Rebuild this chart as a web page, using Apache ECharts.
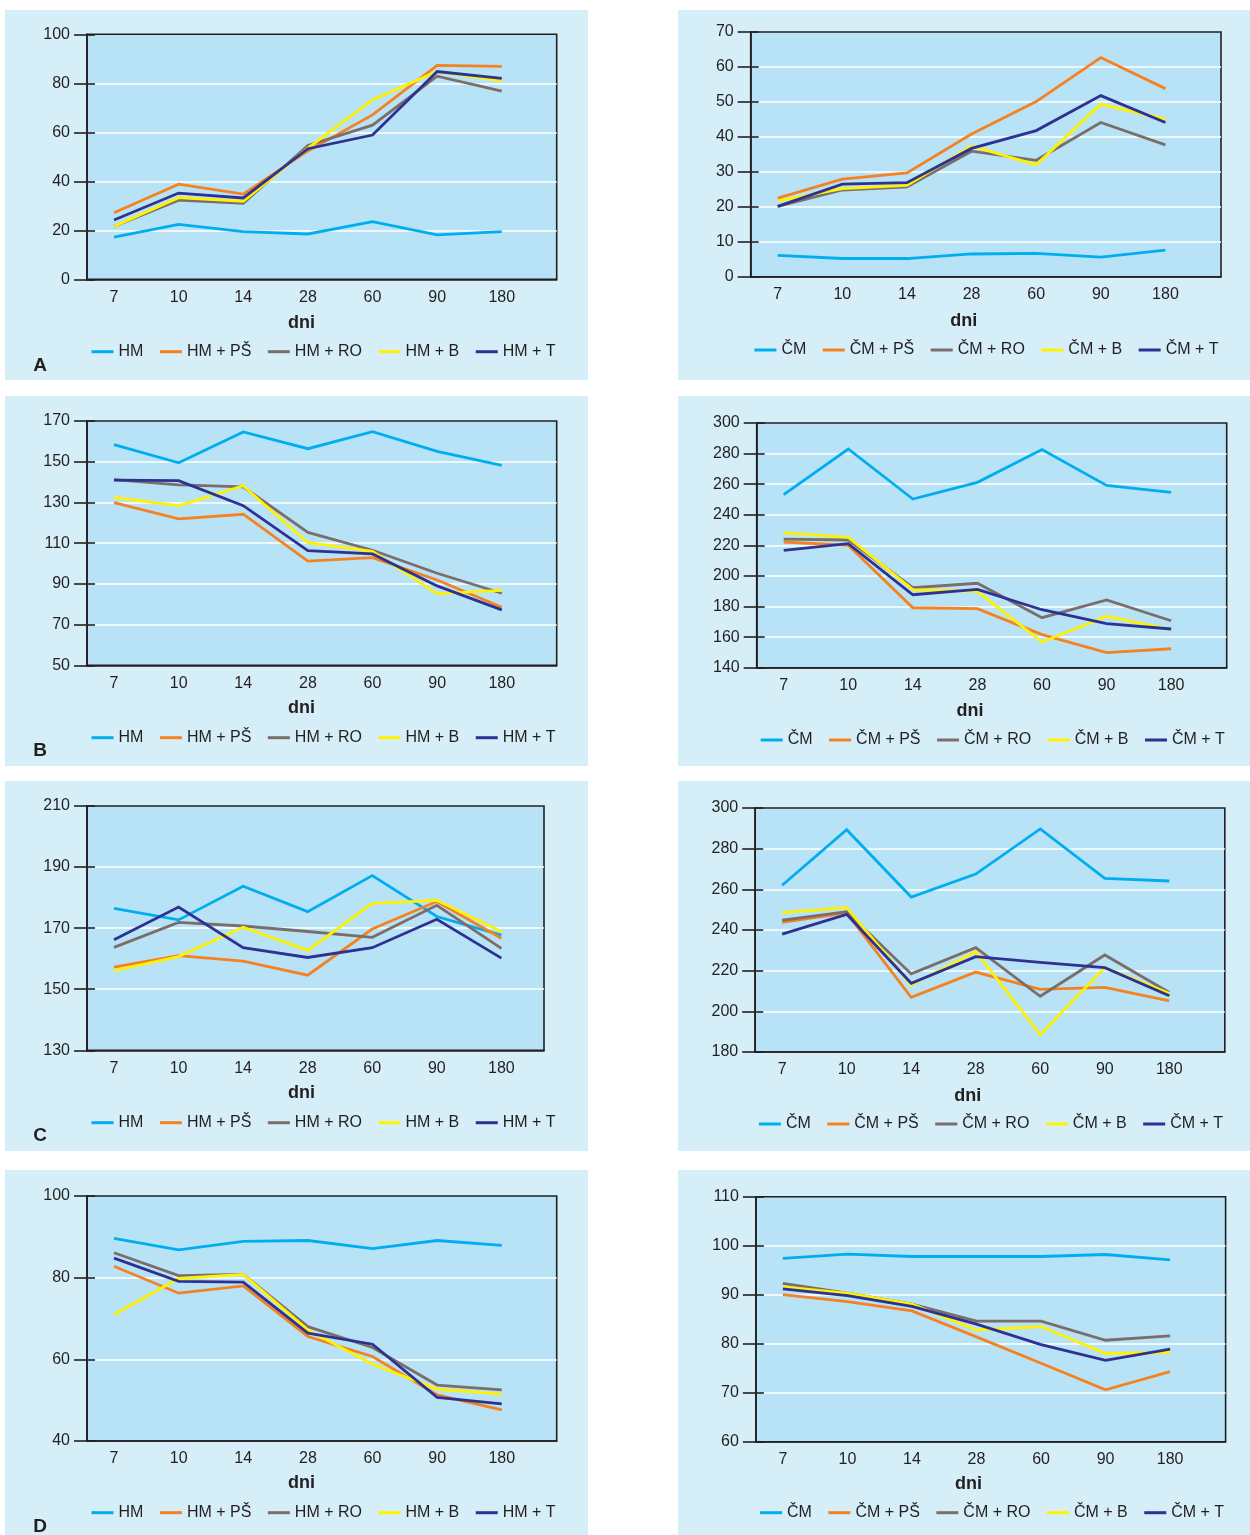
<!DOCTYPE html>
<html>
<head>
<meta charset="utf-8">
<script src="https://cdn.jsdelivr.net/npm/echarts@6/dist/echarts.min.js"></script>
<style>
  html, body { margin: 0; padding: 0; background: #ffffff; }
  body { width: 1250px; height: 1535px; position: relative; overflow: hidden; }
  .panel { position: absolute; background: #d5eef8; }
</style>
</head>
<body>
<div id="pA1" class="panel" style="left:5px;top:10px;width:583px;height:370px"></div>
<div id="pA2" class="panel" style="left:678px;top:10px;width:572px;height:370px"></div>
<div id="pB1" class="panel" style="left:5px;top:396px;width:583px;height:370px"></div>
<div id="pB2" class="panel" style="left:678px;top:396px;width:572px;height:370px"></div>
<div id="pC1" class="panel" style="left:5px;top:781px;width:583px;height:370px"></div>
<div id="pC2" class="panel" style="left:678px;top:781px;width:572px;height:370px"></div>
<div id="pD1" class="panel" style="left:5px;top:1170px;width:583px;height:365px"></div>
<div id="pD2" class="panel" style="left:678px;top:1170px;width:572px;height:365px"></div>
<script>
// Time points (days)
const days = ['7', '10', '14', '28', '60', '90', '180'];

// Legend names
const hmNames = ['HM', 'HM + PŠ', 'HM + RO', 'HM + B', 'HM + T'];
const cmNames = ['ČM', 'ČM + PŠ', 'ČM + RO', 'ČM + B', 'ČM + T'];

// Panel A – HM
const aHM   = [17.2, 22.4, 19.5, 18.5, 23.5, 18.1, 19.5];
const aHMPS = [27.2, 38.8, 34.8, 52.4, 67.1, 87.3, 86.9];
const aHMRO = [21.6, 32.3, 31.0, 54.6, 62.9, 82.9, 76.8];
const aHMB  = [21.6, 33.3, 31.8, 53.5, 73.2, 84.8, 81.0];
const aHMT  = [24.2, 35.2, 33.2, 53.3, 58.9, 84.8, 82.0];
// Panel A – ČM
const aCM   = [6.1, 5.2, 5.2, 6.5, 6.7, 5.6, 7.6];
const aCMPS = [22.5, 27.9, 29.7, 40.8, 50.1, 62.7, 53.8];
const aCMRO = [20.1, 24.8, 25.7, 35.9, 33.3, 44.1, 37.7];
const aCMB  = [21.6, 25.2, 26.1, 37.4, 32.0, 49.4, 45.1];
const aCMT  = [20.1, 26.5, 26.9, 36.7, 41.8, 51.8, 44.1];

// Panel B – HM
const bHM   = [158.4, 149.5, 164.6, 156.4, 164.8, 155.1, 148.2];
const bHMPS = [129.9, 121.9, 124.2, 101.2, 102.9, 91.9, 78.5];
const bHMRO = [141.2, 138.6, 137.6, 115.3, 106.5, 95.2, 85.4];
const bHMB  = [132.5, 128.3, 138.2, 110.2, 106.0, 85.2, 86.8];
const bHMT  = [141.0, 140.7, 128.4, 106.3, 104.7, 89.0, 77.2];
// Panel B – ČM
const bCM   = [253.1, 283.0, 250.3, 261.2, 282.6, 259.2, 254.7];
const bCMPS = [222.2, 220.0, 179.2, 178.6, 161.6, 149.8, 152.4];
const bCMRO = [224.1, 223.5, 192.3, 195.2, 172.7, 184.3, 170.7];
const bCMB  = [228.1, 225.2, 191.0, 189.9, 156.8, 173.6, 164.9];
const bCMT  = [216.7, 221.1, 187.7, 191.2, 177.9, 168.8, 165.3];

// Panel C – HM
const cHM   = [176.5, 172.7, 183.7, 175.4, 187.2, 173.8, 167.7];
const cHMPS = [157.2, 161.0, 159.2, 154.6, 169.7, 178.7, 166.7];
const cHMRO = [163.7, 171.9, 170.7, 168.9, 167.0, 177.5, 163.4];
const cHMB  = [156.1, 160.7, 170.3, 162.7, 178.1, 179.1, 168.9];
const cHMT  = [166.2, 176.9, 163.6, 160.4, 163.6, 172.9, 160.2];
// Panel C – ČM
const cCM   = [262.0, 289.3, 256.2, 267.5, 289.7, 265.4, 264.1];
const cCMPS = [243.8, 248.4, 206.9, 219.3, 210.8, 211.8, 205.1];
const cCMRO = [244.8, 249.0, 218.4, 231.3, 207.4, 227.7, 209.3];
const cCMB  = [248.5, 251.0, 213.0, 229.3, 188.5, 221.5, 208.9];
const cCMT  = [238.0, 247.7, 213.8, 226.9, 224.1, 221.5, 207.7];

// Panel D – HM
const dHM   = [89.6, 86.8, 88.9, 89.1, 87.1, 89.1, 87.9];
const dHMPS = [82.8, 76.2, 78.0, 65.6, 60.7, 51.3, 47.6];
const dHMRO = [86.1, 80.5, 80.8, 68.0, 62.9, 53.7, 52.5];
const dHMB  = [71.0, 79.8, 80.8, 67.2, 58.8, 52.7, 51.5];
const dHMT  = [84.8, 79.1, 78.9, 66.4, 63.7, 50.7, 49.1];
// Panel D – ČM
const dCM   = [97.4, 98.3, 97.8, 97.8, 97.8, 98.2, 97.1];
const dCMPS = [90.0, 88.6, 86.7, 81.4, 76.0, 70.6, 74.3];
const dCMRO = [92.3, 90.3, 88.1, 84.6, 84.6, 80.7, 81.6];
const dCMB  = [91.6, 90.3, 88.1, 82.8, 83.5, 78.0, 78.2];
const dCMT  = [91.2, 89.8, 87.6, 84.0, 79.8, 76.6, 78.9];

// Styling
const INK = '#231f20';
const FONT = '"Liberation Sans", Arial, Helvetica, sans-serif';
const lineColors = ['#00aeef', '#f58220', '#7b6e6a', '#fff200', '#2e3192'];
const plotFill = '#b8e3f7';

function drawPanel(cfg) {
  const el = document.getElementById(cfg.id);
  const chart = echarts.init(el, null, { renderer: 'canvas' });
  const yBase = {
    type: 'value', min: cfg.yMin, max: cfg.yMax, interval: cfg.yStep,
    gridIndex: 0, position: 'left'
  };
  const series = cfg.values.map((vals, k) => ({
    name: cfg.names[k],
    type: 'line',
    data: vals.map((v, i) => [i, v]),
    symbol: 'none',
    lineStyle: { width: 2.8, color: lineColors[k], join: 'miter' },
    itemStyle: { color: lineColors[k] },
    z: 3 + k,
    animation: false
  }));
  const graphics = [{
    type: 'text', x: cfg.dni[0], y: cfg.dni[1], z: 10,
    style: { text: 'dni', fill: INK, font: 'bold 18px ' + FONT, align: 'center', verticalAlign: 'middle' }
  }];
  if (cfg.letter) {
    graphics.push({
      type: 'text', x: 35, y: cfg.letterY, z: 10,
      style: { text: cfg.letter, fill: INK, font: 'bold 19px ' + FONT, align: 'center', verticalAlign: 'middle' }
    });
  }
  chart.setOption({
    animation: false,
    backgroundColor: 'transparent',
    textStyle: { fontFamily: FONT },
    grid: {
      left: cfg.grid[0], top: cfg.grid[1], width: cfg.grid[2], height: cfg.grid[3],
      show: true, backgroundColor: plotFill, borderColor: INK, borderWidth: 1.6,
      containLabel: false
    },
    xAxis: {
      type: 'value', min: -0.418, max: cfg.xMax,
      axisLine: { show: true, onZero: false, lineStyle: { color: INK, width: 1.6 } },
      axisTick: { show: false },
      splitLine: { show: false },
      axisLabel: {
        customValues: [0, 1, 2, 3, 4, 5, 6],
        formatter: v => days[Math.round(v)],
        margin: 10, fontSize: 16, color: INK, fontFamily: FONT
      }
    },
    yAxis: [
      Object.assign({}, yBase, {
        axisLine: { show: true, onZero: false, lineStyle: { color: INK, width: 1.6 } },
        axisTick: { show: true, length: 13, lineStyle: { color: INK, width: 1.6 } },
        axisLabel: { margin: 17, fontSize: 16, color: INK, fontFamily: FONT },
        splitLine: { show: true, showMinLine: false, showMaxLine: false, lineStyle: { color: '#ffffff', width: 1.6 } }
      }),
      Object.assign({}, yBase, {
        axisLine: { show: false, onZero: false },
        axisTick: { show: true, inside: true, length: 8, lineStyle: { color: INK, width: 1.6 } },
        axisLabel: { show: false },
        splitLine: { show: false }
      })
    ],
    legend: {
      left: cfg.legend[0], top: cfg.legend[1] - 7, padding: 0,
      icon: 'rect', itemWidth: 22, itemHeight: 3, itemGap: 16.5,
      textStyle: { fontSize: 16, color: INK, fontFamily: FONT },
      data: cfg.names.slice(),
      selectedMode: false
    },
    graphic: graphics,
    series: series
  });
}

const panels = [
  { id: 'pA1', names: hmNames, values: [aHM, aHMPS, aHMRO, aHMB, aHMT],
    yMin: 0, yMax: 100, yStep: 20, grid: [82, 24.3, 469.7, 245], xMax: 6.85,
    legend: [86.5, 340.7], dni: [296.5, 313], letter: 'A', letterY: 356 },
  { id: 'pA2', names: cmNames, values: [aCM, aCMPS, aCMRO, aCMB, aCMT],
    yMin: 0, yMax: 70, yStep: 10, grid: [72.7, 22, 470.3, 244.7], xMax: 6.86,
    legend: [76.4, 339], dni: [285.7, 311] },
  { id: 'pB1', names: hmNames, values: [bHM, bHMPS, bHMRO, bHMB, bHMT],
    yMin: 50, yMax: 170, yStep: 20, grid: [82, 25, 469.7, 244.3], xMax: 6.85,
    legend: [86.5, 340.7], dni: [296.5, 312], letter: 'B', letterY: 355 },
  { id: 'pB2', names: cmNames, values: [bCM, bCMPS, bCMRO, bCMB, bCMT],
    yMin: 140, yMax: 300, yStep: 20, grid: [78.7, 27, 470, 244.7], xMax: 6.86,
    legend: [82.7, 343], dni: [292, 315] },
  { id: 'pC1', names: hmNames, values: [cHM, cHMPS, cHMRO, cHMB, cHMT],
    yMin: 130, yMax: 210, yStep: 20, grid: [82, 25, 457, 244.3], xMax: 6.66,
    legend: [86.5, 340.7], dni: [296.5, 312], letter: 'C', letterY: 355 },
  { id: 'pC2', names: cmNames, values: [cCM, cCMPS, cCMRO, cCMB, cCMT],
    yMin: 180, yMax: 300, yStep: 20, grid: [77.2, 27, 469.6, 244], xMax: 6.86,
    legend: [80.9, 342], dni: [289.8, 315] },
  { id: 'pD1', names: hmNames, values: [dHM, dHMPS, dHMRO, dHMB, dHMT],
    yMin: 40, yMax: 100, yStep: 20, grid: [82, 26, 469.7, 245], xMax: 6.85,
    legend: [86.5, 341.7], dni: [296.5, 313], letter: 'D', letterY: 356.7 },
  { id: 'pD2', names: cmNames, values: [dCM, dCMPS, dCMRO, dCMB, dCMT],
    yMin: 60, yMax: 110, yStep: 10, grid: [77.9, 26.7, 469.7, 245], xMax: 6.86,
    legend: [82, 341.7], dni: [290.5, 314] }
];

panels.forEach(drawPanel);
</script>
</body>
</html>
